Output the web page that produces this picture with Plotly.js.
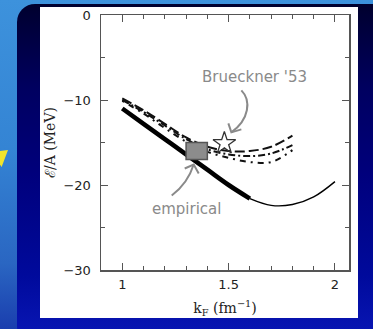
<!DOCTYPE html>
<html>
<head>
<meta charset="utf-8">
<script src="https://cdn.plot.ly/plotly-3.0.1.min.js"></script>
<style>
  html, body { margin: 0; padding: 0; width: 373px; height: 329px; overflow: hidden; }
  body { position: relative; background: linear-gradient(to bottom, #3d92dc 0%, #3484d4 45%, #2a66c2 80%, #1a3eae 100%); }
  #frame { position: absolute; left: 17px; top: 4px; width: 372px; height: 340px; border-radius: 18px;
           background: linear-gradient(to bottom, #00002e 0%, #000060 25%, #00007c 50%, #000a9c 80%, #0a18b8 100%); }
  #arrowtip { position: absolute; left: 0; top: 150px; width: 8px; height: 17px; background: #f0e42c;
              clip-path: polygon(0 6%, 100% 0, 20% 100%, 0 85%); }
  #panel { position: absolute; left: 40px; top: 7px; width: 318px; height: 311px; background: #fff; }
  #chart { position: absolute; left: 0; top: 0; width: 373px; height: 329px; }
</style>
</head>
<body>
<div id="arrowtip"></div>
<div id="frame"></div>
<div id="panel"></div>
<div id="chart"></div>
<script>
// Nuclear-matter binding energy per nucleon vs Fermi momentum
const kF = [1.0, 1.1, 1.2, 1.3, 1.4, 1.5, 1.6, 1.7, 1.8, 1.9, 2.0];
const energyModern = [-11.0, -12.8, -14.6, -16.4, -18.2, -20.0, -21.6, -22.4, -22.3, -21.4, -19.6];
const thickUpTo = 1.6;   // the curve is drawn heavy up to this k_F

// Older two-body calculations (band of curves)
const kFOld = [1.0, 1.1, 1.2, 1.3, 1.4, 1.5, 1.6, 1.7, 1.8];
const energyOldA = [-9.8, -11.2, -12.8, -14.4, -15.5, -16.0, -16.0, -15.5, -14.2];
const energyOldB = [-10.0, -11.4, -13.0, -14.6, -15.8, -16.4, -16.6, -16.3, -15.3];
const energyOldC = [-10.1, -11.6, -13.3, -14.9, -16.1, -16.8, -17.3, -17.3, -15.9];

// Brueckner 1953 point
const brueckK = [1.48];
const brueckE = [-15.1];

// Empirical saturation region
const empiricalK = [1.30, 1.40];
const empiricalE = [-17.0, -15.0];

const heavyIdx = kF.map((k, i) => i).filter(i => kF[i] <= thickUpTo + 1e-9);
const lightIdx = kF.map((k, i) => i).filter(i => kF[i] >= thickUpTo - 1e-9);

const traces = [
  { x: kFOld, y: energyOldA, mode: 'lines', line: { color: '#111', width: 2, dash: '10px,4px', shape: 'spline' } },
  { x: kFOld, y: energyOldB, mode: 'lines', line: { color: '#111', width: 2, dash: '7px,3px,2px,3px', shape: 'spline' } },
  { x: kFOld, y: energyOldC, mode: 'lines', line: { color: '#111', width: 2, dash: '2px,5px,6px,5px', shape: 'spline' } },
  { x: lightIdx.map(i => kF[i]), y: lightIdx.map(i => energyModern[i]), mode: 'lines',
    line: { color: '#000', width: 1.4, shape: 'spline' } },
  { x: heavyIdx.map(i => kF[i]), y: heavyIdx.map(i => energyModern[i]), mode: 'lines',
    line: { color: '#000', width: 4.6, shape: 'spline' } },
  { x: brueckK, y: brueckE, mode: 'markers',
    marker: { symbol: 'star-open', size: 17, color: '#333', line: { width: 1.3, color: '#333' } } }
];

const grey = '#8a8a8a';
const axisCommon = {
  showgrid: false, zeroline: false, showline: true, linecolor: '#555', linewidth: 1.5,
  mirror: 'allticks', ticks: 'inside', ticklen: 7, tickwidth: 1, tickcolor: '#555',
  tickfont: { family: 'DejaVu Sans', size: 13, color: '#222' }
};

const layout = {
  width: 373, height: 329,
  margin: { l: 101, r: 24, t: 15, b: 59 },
  paper_bgcolor: 'rgba(0,0,0,0)', plot_bgcolor: '#fff',
  showlegend: false,
  xaxis: Object.assign({}, axisCommon, {
    range: [0.9, 2.066], tickmode: 'linear', tick0: 1, dtick: 0.5, ticklabelstandoff: 2,
    minor: { tickmode: 'linear', tick0: 1, dtick: 0.1, ticks: 'inside', ticklen: 4, tickcolor: '#555', showgrid: false },
    title: { text: 'k<sub>F</sub> (fm<sup>−1</sup>)', font: { family: 'DejaVu Serif', size: 14, color: '#222' }, standoff: 12 }
  }),
  yaxis: Object.assign({}, axisCommon, {
    range: [-30, 0], tickmode: 'linear', tick0: 0, dtick: 10, ticklabelstandoff: 6,
    minor: { tickmode: 'linear', tick0: 0, dtick: 5, ticks: 'inside', ticklen: 4, tickcolor: '#555', showgrid: false },
    title: { text: 'ℰ/A (MeV)', font: { family: 'DejaVu Serif', size: 14, color: '#222' }, standoff: 4 }
  }),
  shapes: [
    // empirical box
    { type: 'rect', xref: 'x', yref: 'y', x0: empiricalK[0], x1: empiricalK[1], y0: empiricalE[0], y1: empiricalE[1],
      fillcolor: '#8c8c8c', line: { color: '#555', width: 1.5 }, layer: 'above' },
    // curved arrow down to the Brueckner star
    { type: 'path', xref: 'x', yref: 'y', xsizemode: 'pixel', ysizemode: 'pixel',
      xanchor: brueckK[0], yanchor: brueckE[0],
      path: 'M 17,53 C 27,43 25,24 7,11', line: { color: grey, width: 2 } },
    { type: 'path', xref: 'x', yref: 'y', xsizemode: 'pixel', ysizemode: 'pixel',
      xanchor: brueckK[0], yanchor: brueckE[0],
      path: 'M 4,20 L 7,11 L 17,14', line: { color: grey, width: 2 } },
    // arrow up to the empirical box
    { type: 'path', xref: 'x', yref: 'y', xsizemode: 'pixel', ysizemode: 'pixel',
      xanchor: (empiricalK[0] + empiricalK[1]) / 2, yanchor: empiricalE[0],
      path: 'M -25,-36 Q -9,-24 -3,-5', line: { color: grey, width: 2 } },
    { type: 'path', xref: 'x', yref: 'y', xsizemode: 'pixel', ysizemode: 'pixel',
      xanchor: (empiricalK[0] + empiricalK[1]) / 2, yanchor: empiricalE[0],
      path: 'M -12,-9 L -3,-5 L 2,-14', line: { color: grey, width: 2 } }
  ],
  annotations: [
    { xref: 'x', yref: 'y', x: 1.624, y: -7.3, text: "Brueckner '53", showarrow: false,
      font: { family: 'DejaVu Sans', size: 15, color: grey } },
    { xref: 'x', yref: 'y', x: 1.304, y: -22.8, text: 'empirical', showarrow: false,
      font: { family: 'DejaVu Sans', size: 15, color: grey } }
  ]
};

Plotly.newPlot('chart', traces, layout, { staticPlot: true, displayModeBar: false });
</script>
</body>
</html>
